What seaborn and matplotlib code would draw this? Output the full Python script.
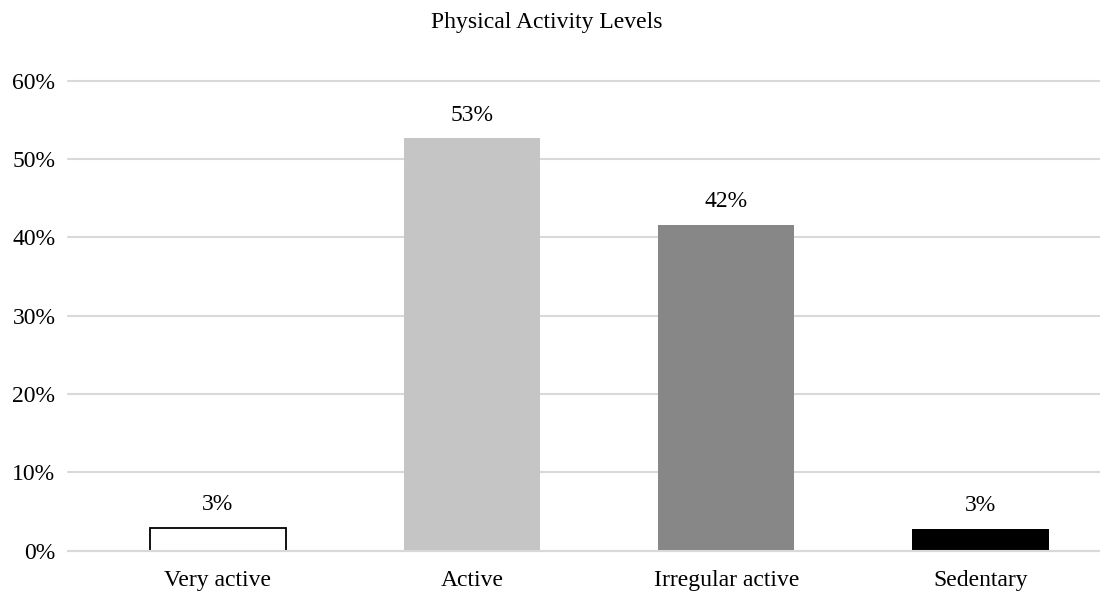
import matplotlib
matplotlib.use("Agg")
import matplotlib.pyplot as plt
import seaborn as sns
import pandas as pd
from matplotlib.ticker import PercentFormatter

# Share of respondents in each physical activity category (%)
categories = ["Very active", "Active", "Irregular active", "Sedentary"]
shares = [2.9, 52.7, 41.6, 2.8]
bar_colors = ["#ffffff", "#c5c5c5", "#878787", "#000000"]
y_ticks = [0, 10, 20, 30, 40, 50, 60]
title = "Physical Activity Levels"

df = pd.DataFrame({"category": categories, "share": shares})

sns.set_style("white")
plt.rcParams["font.family"] = ["Liberation Serif", "DejaVu Serif"]

fig = plt.figure(figsize=(11, 5.91), dpi=100)
ax = fig.add_axes([0.0618, 0.0685, 0.9382, 0.7945])

sns.barplot(data=df, x="category", y="share", hue="category",
            palette=bar_colors, order=categories, hue_order=categories,
            width=0.536, legend=False, saturation=1, ax=ax,
            edgecolor="none", linewidth=0)

# outline the white bar so it stays visible
for patch, col in zip(ax.patches, bar_colors):
    if col.lower() == "#ffffff":
        patch.set_edgecolor("#000000")
        patch.set_linewidth(1.3)

ax.set_xlim(-0.59, 3.47)
ax.set_ylim(0, 60)
ax.set_yticks(y_ticks)
ax.yaxis.set_major_formatter(PercentFormatter(decimals=0))
ax.grid(axis="y", color="#d9d9d9", linewidth=1.5)
for gl in ax.yaxis.get_gridlines():
    gl.set_clip_on(False)
ax.set_axisbelow(True)

for side in ["top", "right", "left"]:
    ax.spines[side].set_visible(False)
ax.spines["bottom"].set_color("#d9d9d9")
ax.spines["bottom"].set_linewidth(1.5)

ax.tick_params(axis="both", length=0, labelsize=17, colors="#000000")
ax.tick_params(axis="y", pad=9)
ax.tick_params(axis="x", pad=14)
ax.set_xlabel("")
ax.set_ylabel("")

for x, v in enumerate(shares):
    ax.annotate(f"{v:.0f}%", xy=(x, v), xytext=(0, 9),
                textcoords="offset points", ha="center", va="bottom",
                fontsize=17, color="#000000")

fig.text(0.497, 0.962, title, ha="center", va="center", fontsize=17,
         color="#000000")

fig.savefig("out.png", dpi=100)
